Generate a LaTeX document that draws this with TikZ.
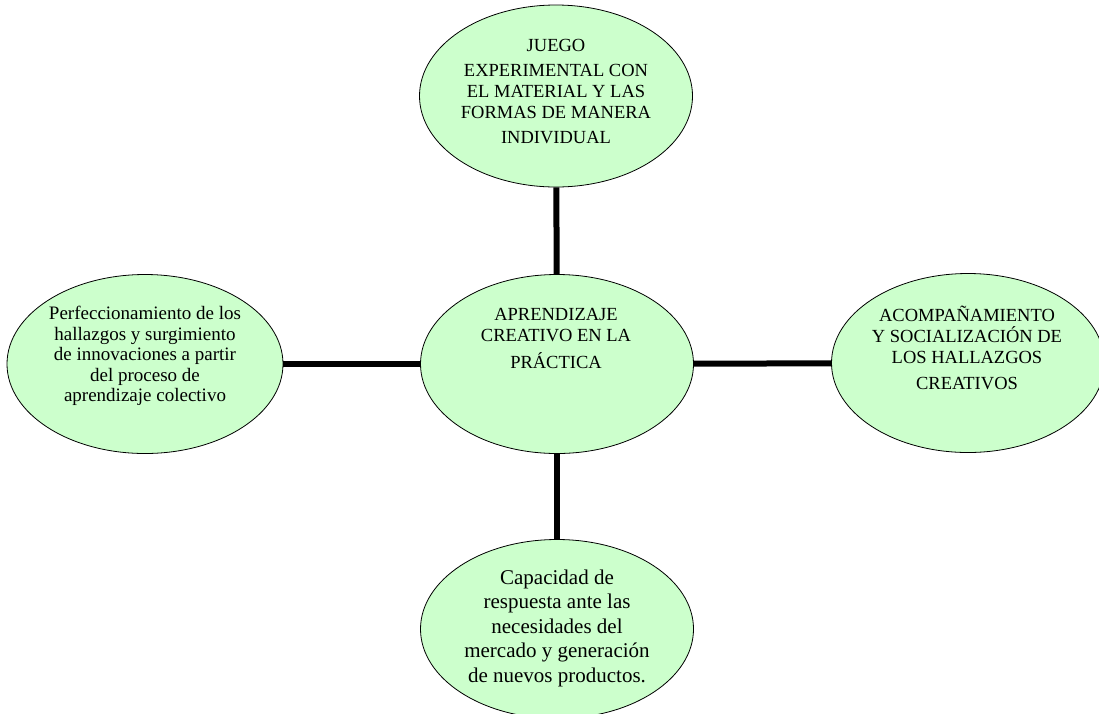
\documentclass[tikz,border=0pt]{standalone}
\usepackage{fontspec}
\setmainfont{Liberation Serif}
\usepackage{tikz}
\usepackage{xcolor}
\usetikzlibrary{shapes.geometric}

\definecolor{verdeclaro}{HTML}{CCFFCC}

\begin{document}
\begin{tikzpicture}[
  x=1pt, y=-1pt,
  bubble/.style={draw, ellipse, fill=verdeclaro, line width=0.8pt, inner sep=0pt, minimum width=273pt, minimum height=179pt},
  txt/.style={align=center, inner sep=0pt, font=\fontsize{18.5}{21}\selectfont},
  bigtxt/.style={align=center, inner sep=0pt, font=\fontsize{21}{24.5}\selectfont},
  link/.style={line width=6pt}
]
\useasboundingbox (0,0) rectangle (1099,713);
% elipses
\node[bubble, minimum height=182pt] (juego) at (556,96) {};
\node[bubble] (centro) at (557,364) {};
\node[bubble, minimum width=276pt] (perfec) at (145,364) {};
\node[bubble] (acomp) at (968,363) {};
\node[bubble] (capac) at (557,629) {};
% conexiones
\draw[link] (juego) -- (centro);
\draw[link] (perfec) -- (centro);
\draw[link] (centro) -- (acomp);
\draw[link] (centro) -- (capac);
% textos
\node[txt] (juegotxt) at (556,92) {JUEGO\\[4pt] EXPERIMENTAL CON\\ EL MATERIAL Y LAS\\ FORMAS DE MANERA\\[4pt] INDIVIDUAL};
\node[txt] (centrotxt) at (556,338) {APRENDIZAJE\\ CREATIVO EN LA\\[6pt] PRÁCTICA};
\node[txt, font=\fontsize{19}{20.5}\selectfont] (perfectxt) at (145,356) {Perfeccionamiento de los\\ hallazgos y surgimiento\\ de innovaciones a partir\\ del proceso de\\ aprendizaje colectivo};
\node[txt] (acomptxt) at (967,348) {ACOMPAÑAMIENTO\\ Y SOCIALIZACIÓN DE\\ LOS HALLAZGOS\\[5pt] CREATIVOS};
\node[bigtxt] (capactxt) at (557,628) {Capacidad de\\ respuesta ante las\\ necesidades del\\ mercado y generación\\ de nuevos productos.};
\end{tikzpicture}
\end{document}
